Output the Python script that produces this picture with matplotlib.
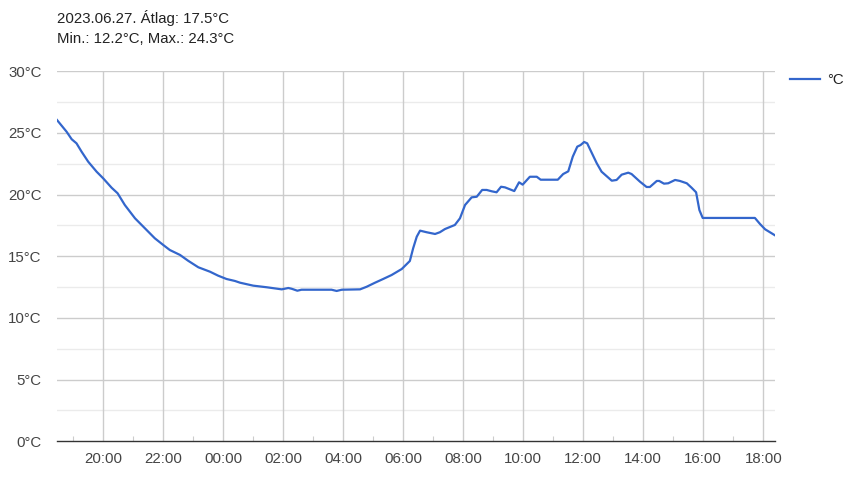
import matplotlib
matplotlib.use("Agg")
import matplotlib.pyplot as plt
from matplotlib.ticker import FixedLocator, FuncFormatter

plt.rcParams['font.family'] = ['Liberation Sans', 'DejaVu Sans']

# ora (0 = 2023.06.26 00:00, 24 felett másnap)
ora = [18.46, 18.78, 18.95, 19.11, 19.28, 19.50, 19.78, 20.00, 20.28, 20.48,
       20.72, 21.06, 21.39, 21.72, 22.00, 22.22, 22.56, 22.83, 23.17, 23.56,
       23.83, 24.11, 24.39, 24.56, 25.00, 25.45, 25.95, 26.17, 26.28, 26.47,
       26.61, 27.61, 27.78, 27.95, 28.56, 28.78, 29.06, 29.33, 29.61, 29.95,
       30.22, 30.33, 30.45, 30.56, 30.78, 31.06, 31.22, 31.39, 31.72, 31.89,
       32.06, 32.28, 32.45, 32.63, 32.78, 32.95, 33.11, 33.26, 33.39, 33.70,
       33.86, 33.98, 34.22, 34.45, 34.58, 35.15, 35.33, 35.50, 35.65, 35.80,
       35.91, 36.03, 36.13, 36.28, 36.45, 36.61, 36.95, 37.11, 37.28, 37.50,
       37.61, 37.89, 38.11, 38.22, 38.45, 38.53, 38.69, 38.83, 39.06, 39.22,
       39.45, 39.61, 39.76, 39.87, 39.98, 41.72, 41.89, 42.06, 42.39]
homerseklet = [26.05, 25.10, 24.49, 24.16, 23.48, 22.67, 21.86, 21.32, 20.56, 20.11,
               19.16, 18.08, 17.27, 16.46, 15.92, 15.51, 15.11, 14.64, 14.11, 13.75,
               13.43, 13.16, 13.00, 12.86, 12.62, 12.49, 12.32, 12.43, 12.37, 12.21,
               12.29, 12.29, 12.19, 12.29, 12.32, 12.53, 12.86, 13.16, 13.48, 13.97,
               14.62, 15.65, 16.59, 17.08, 16.95, 16.81, 16.95, 17.21, 17.54, 18.08,
               19.16, 19.78, 19.83, 20.38, 20.38, 20.27, 20.19, 20.64, 20.59, 20.29,
               21.00, 20.81, 21.45, 21.45, 21.21, 21.21, 21.67, 21.89, 23.08, 23.89,
               24.02, 24.27, 24.16, 23.40, 22.54, 21.86, 21.13, 21.19, 21.62, 21.78,
               21.67, 21.05, 20.62, 20.62, 21.11, 21.11, 20.89, 20.92, 21.19, 21.11,
               20.92, 20.56, 20.19, 18.75, 18.11, 18.11, 17.62, 17.19, 16.70]

cim1 = "2023.06.27. Átlag: 17.5°C"
cim2 = "Min.: 12.2°C, Max.: 24.3°C"
fo_orak = [20, 22, 24, 26, 28, 30, 32, 34, 36, 38, 40, 42]
mellek_orak = [19, 21, 23, 25, 27, 29, 31, 33, 35, 37, 39, 41]
y_fo = [0, 5, 10, 15, 20, 25, 30]
y_mellek = [2.5, 7.5, 12.5, 17.5, 22.5, 27.5]

W, H = 851, 487
fs = 10.8
fig = plt.figure(figsize=(W / 100, H / 100), dpi=100)
ax = fig.add_axes([57 / W, (H - 441.3) / H, (775 - 57) / W, (441.3 - 71.3) / H])

# racsvonalak
for y in y_mellek:
    ax.axhline(y, color='#ebebeb', lw=1, zorder=0)
for y in y_fo[1:]:
    ax.axhline(y, color='#cccccc', lw=1, zorder=1)
for x in fo_orak:
    ax.axvline(x, color='#cccccc', lw=1, zorder=1)

ax.plot(ora, homerseklet, color='#3366cc', lw=1.6, zorder=3, label='°C',
        solid_joinstyle='round')

ax.set_xlim(18.46, 42.39)
ax.set_ylim(0, 30)

for s in ['top', 'right', 'left']:
    ax.spines[s].set_visible(False)
ax.spines['bottom'].set_color('#333333')
ax.spines['bottom'].set_linewidth(1)
ax.spines['bottom'].set_zorder(4)

ax.xaxis.set_major_locator(FixedLocator(fo_orak))
ax.xaxis.set_minor_locator(FixedLocator(mellek_orak))
ax.xaxis.set_major_formatter(FuncFormatter(lambda v, p: "%02d:00" % (int(round(v)) % 24)))
ax.tick_params(axis='x', which='major', length=0, pad=8, labelsize=fs, labelcolor='#444444')
ax.tick_params(axis='x', which='minor', direction='in', length=3.5, color='#cccccc', width=0.8)

ax.yaxis.set_major_locator(FixedLocator(y_fo))
ax.yaxis.set_major_formatter(FuncFormatter(lambda v, p: "%d°C" % v))
ax.tick_params(axis='y', length=0, pad=11, labelsize=fs, labelcolor='#444444')

fig.text(57 / W, 1 - 18 / H, cim1, fontsize=fs, color='#222222', va='center', ha='left')
fig.text(57 / W, 1 - 39 / H, cim2, fontsize=fs, color='#222222', va='center', ha='left')

leg = ax.legend(loc='upper left', bbox_to_anchor=(782 / W, 1 - 66 / H),
                bbox_transform=fig.transFigure, frameon=False, fontsize=fs,
                handlelength=2.0, handletextpad=0.5, borderpad=0)
for t in leg.get_texts():
    t.set_color('#222222')

fig.savefig('out.png', dpi=100)
